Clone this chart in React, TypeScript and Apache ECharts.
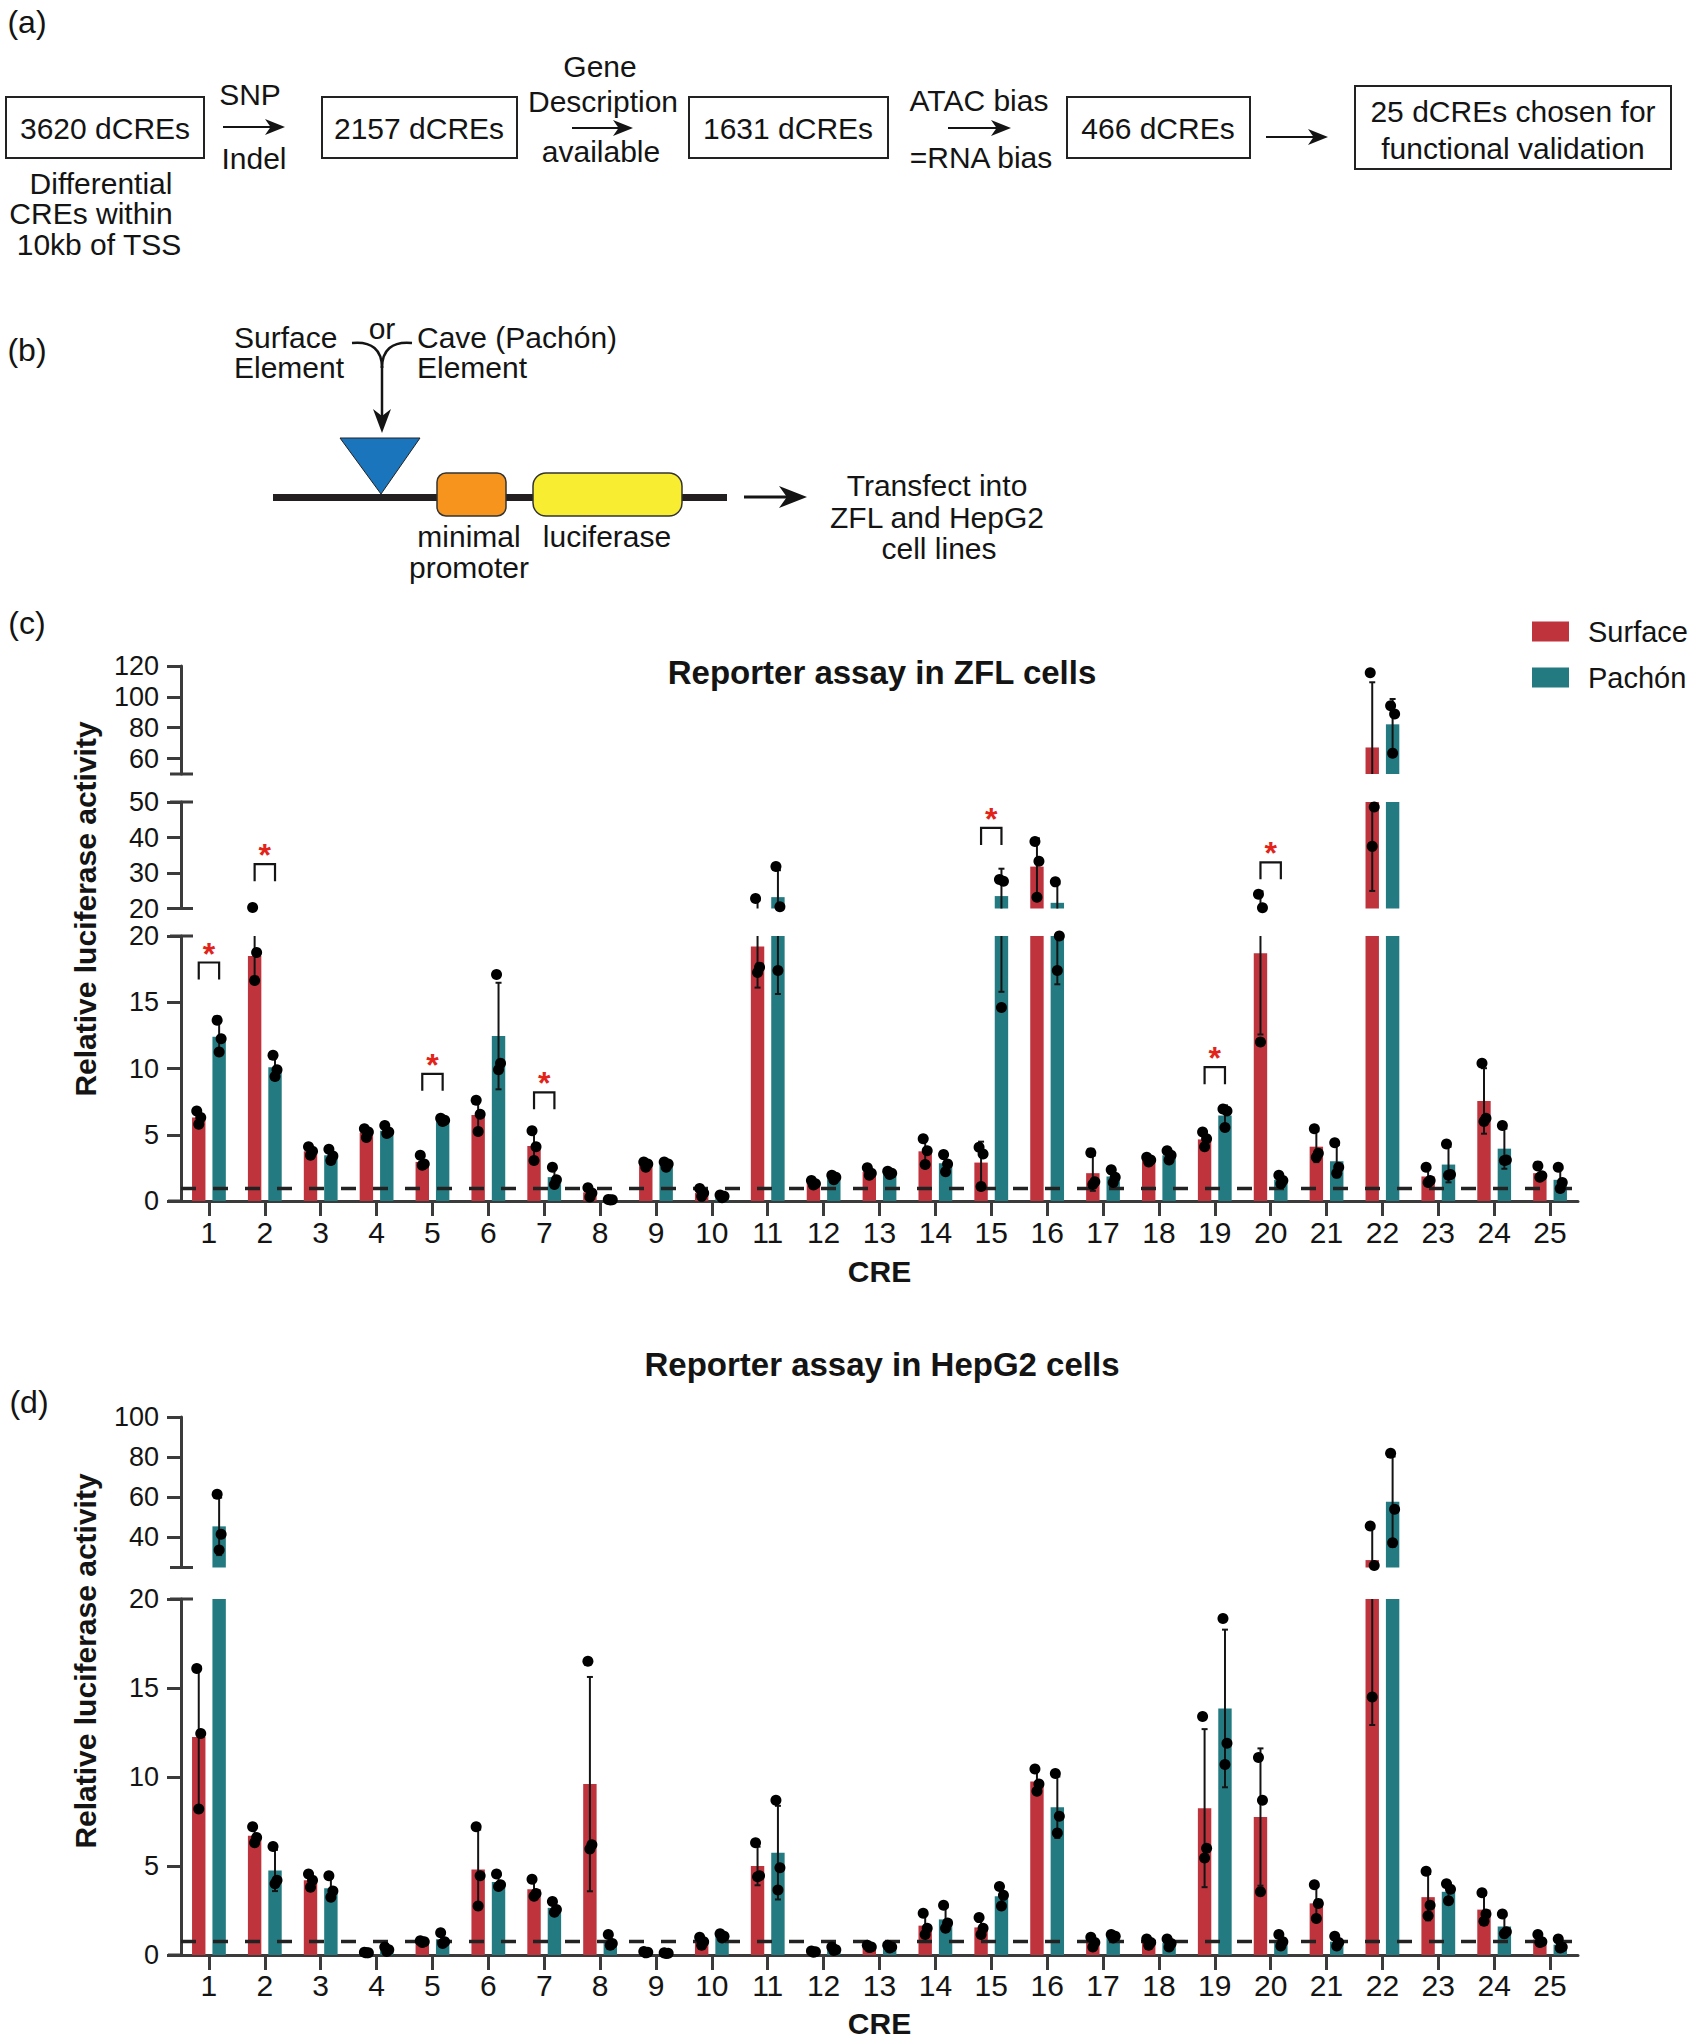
import React, { useEffect, useRef } from "react";
import * as echarts from "echarts";

// ---------------- data ----------------
const categories = ["1","2","3","4","5","6","7","8","9","10","11","12","13","14","15","16","17","18","19","20","21","22","23","24","25"];

// Panel (c) ZFL cells
const zflSurfaceMean = [6.3, 18.5, 3.75, 5.15, 2.95, 6.5, 4.15, 0.65, 2.75, 0.6, 19.2, 1.35, 2.2, 3.75, 2.9, 31.8, 2.1, 3.1, 4.65, 18.7, 4.1, 67.2, 1.85, 7.55, 2.1];
const zflPachonMean = [12.4, 10.1, 3.45, 5.3, 6.1, 12.45, 1.8, 0.1, 2.75, 0.35, 23.2, 1.8, 2.1, 2.85, 23.5, 21.6, 1.85, 3.45, 6.45, 1.6, 3.0, 82.2, 2.75, 3.95, 1.6];
const zflSurfaceReps = [
  [6.8, 6.3, 5.8], [20.3, 18.75, 16.65], [4.1, 3.75, 3.45], [5.45, 5.2, 4.8], [3.45, 2.8, 2.7],
  [7.6, 6.55, 5.25], [5.3, 4.1, 3.05], [1.0, 0.6, 0.3], [2.95, 2.8, 2.55], [0.95, 0.6, 0.35],
  [22.8, 17.65, 17.25], [1.55, 1.3, 1.2], [2.5, 2.1, 1.95], [4.7, 3.8, 2.75], [4.05, 3.55, 1.1],
  [38.9, 33.3, 23.2], [3.65, 1.45, 1.25], [3.3, 3.1, 2.95], [5.2, 4.7, 4.1], [24.0, 20.2, 12.0],
  [5.45, 3.6, 3.3], [115.6, 48.6, 37.5], [2.55, 1.55, 1.4], [10.4, 6.25, 6.0], [2.65, 1.9, 1.8]
];
const zflPachonReps = [
  [13.65, 12.25, 11.25], [11.0, 9.9, 9.4], [3.9, 3.4, 3.05], [5.7, 5.2, 5.1], [6.25, 6.1, 6.0],
  [17.1, 10.4, 9.9], [2.55, 1.6, 1.25], [0.12, 0.1, 0.08], [2.95, 2.8, 2.55], [0.45, 0.35, 0.25],
  [31.8, 20.5, 17.4], [1.95, 1.8, 1.6], [2.25, 2.1, 2.0], [3.5, 2.8, 2.2], [28.2, 27.7, 14.6],
  [27.5, 20.0, 17.4], [2.35, 1.8, 1.4], [3.8, 3.45, 3.1], [6.95, 6.8, 5.55], [1.95, 1.55, 1.3],
  [4.4, 2.55, 2.1], [94.2, 88.9, 63.5], [4.3, 2.0, 1.95], [5.7, 3.1, 3.05], [2.55, 1.4, 0.95]
];
const zflSigCats = [1, 2, 5, 7, 15, 19, 20];
const zflSigHeights = [18.0, 32.5, 9.6, 8.2, 42.7, 10.1, 33.0];
const zflBaseline = 1;

// Panel (d) HepG2 cells
const hepSurfaceMean = [12.25, 6.7, 4.2, 0.13, 0.75, 4.8, 3.7, 9.6, 0.15, 0.77, 5.0, 0.18, 0.47, 1.65, 1.55, 9.75, 0.7, 0.72, 8.25, 7.75, 2.9, 28.7, 3.25, 2.55, 0.87];
const hepPachonMean = [45.5, 4.75, 3.75, 0.32, 0.88, 4.1, 2.65, 0.78, 0.1, 1.07, 5.75, 0.33, 0.47, 2.0, 3.3, 8.3, 1.05, 0.67, 13.85, 0.8, 0.75, 57.8, 3.55, 1.6, 0.58];
const hepSurfaceReps = [
  [16.1, 12.45, 8.2], [7.2, 6.6, 6.3], [4.55, 4.2, 3.8], [0.15, 0.13, 0.12], [0.8, 0.75, 0.7],
  [7.2, 4.45, 2.75], [4.25, 3.45, 3.3], [16.5, 6.2, 5.95], [0.2, 0.15, 0.12], [1.0, 0.75, 0.55],
  [6.3, 4.45, 4.4], [0.22, 0.18, 0.15], [0.55, 0.45, 0.42], [2.35, 1.5, 1.15], [2.1, 1.5, 1.15],
  [10.45, 9.6, 9.2], [1.0, 0.7, 0.45], [0.9, 0.7, 0.55], [13.4, 6.0, 5.45], [11.1, 8.7, 3.55],
  [3.95, 2.9, 2.05], [45.7, 26.0, 14.5], [4.7, 2.8, 2.2], [3.5, 2.3, 1.9], [1.15, 0.75, 0.7]
];
const hepPachonReps = [
  [61.5, 41.6, 33.7], [6.1, 4.2, 4.0], [4.45, 3.6, 3.25], [0.45, 0.3, 0.2], [1.25, 0.75, 0.65],
  [4.55, 3.95, 3.85], [3.0, 2.55, 2.4], [1.15, 0.65, 0.55], [0.12, 0.1, 0.08], [1.2, 1.05, 0.95],
  [8.7, 4.9, 3.65], [0.45, 0.3, 0.25], [0.55, 0.45, 0.4], [2.8, 1.8, 1.5], [3.85, 3.35, 2.75],
  [10.2, 7.8, 6.85], [1.15, 1.05, 0.95], [0.9, 0.65, 0.45], [18.9, 11.9, 10.7], [1.15, 0.75, 0.5],
  [1.05, 0.7, 0.5], [81.9, 54.0, 37.3], [4.0, 3.7, 3.05], [2.3, 1.3, 1.2], [0.9, 0.45, 0.4]
];
const hepBaseline = 0.8;

// axis segments (broken axes), bottom segment first
const zflSegMin = [0, 20, 50];
const zflSegMax = [20, 50, 120];
const zflSegInterval = [5, 10, null];
const zflSegTicks = [null, null, [60, 80, 100, 120]];
const hepSegMin = [0, 25];
const hepSegMax = [20, 100];
const hepSegInterval = [5, null];
const hepSegTicks = [null, [40, 60, 80, 100]];

// ---------------- style / layout ----------------
const FONT = "'Liberation Sans', Arial, Helvetica, sans-serif";
const RED = "#BF333D";
const TEAL = "#237B81";
const AX = "#3b3b3b";
const INK = "#141414";
const STAR = "#E2231A";
const GRID_LEFT = 181;
const GRID_WIDTH = 1397;
const OFF = 0.1824; // bar centre offset as fraction of category width
const JIT = [-2, 2, 0];
const zflBoxes = [{ top: 936, height: 265 }, { top: 802, height: 106.5 }, { top: 666, height: 108 }];
const hepBoxes = [{ top: 1599, height: 356 }, { top: 1417, height: 150.5 }];

function sampleSD(a: number[]) {
  const m = a.reduce((s, v) => s + v, 0) / a.length;
  return Math.sqrt(a.reduce((s, v) => s + (v - m) * (v - m), 0) / (a.length - 1));
}

function txt(text: string, x: number, y: number, o: any = {}) {
  const align = o.align || "center";
  return {
    type: "text", x, y, silent: true, rotation: o.rotation || 0,
    style: {
      text, fill: o.color || INK, fontSize: o.size || 30, fontWeight: o.weight || "normal",
      fontFamily: FONT, align, verticalAlign: "middle", textAlign: align, textVerticalAlign: "middle"
    }
  };
}
function ln(x1: number, y1: number, x2: number, y2: number, w = 2, c = INK) {
  return { type: "line", silent: true, shape: { x1, y1, x2, y2 }, style: { stroke: c, lineWidth: w } };
}
function arrow(x1: number, x2: number, y: number, w = 2, hl = 20, hw = 8) {
  return [
    ln(x1, y, x2 - hl * 0.6, y, w),
    { type: "polygon", silent: true, shape: { points: [[x2, y], [x2 - hl, y - hw], [x2 - hl * 0.72, y], [x2 - hl, y + hw]] }, style: { fill: INK } }
  ];
}
function box(x: number, y: number, w: number, h: number) {
  return { type: "rect", silent: true, shape: { x, y, width: w, height: h }, style: { fill: "none", stroke: "#222", lineWidth: 2 } };
}

function buildOption() {
  const grid: any[] = [], xAxis: any[] = [], yAxis: any[] = [], series: any[] = [];

  const errorRender = (segMin: number, segMax: number) => (params: any, api: any) => {
    const cat = api.value(0), mean = api.value(1), sd = api.value(2), side = api.value(3);
    const lo = mean - sd, hi = mean + sd;
    const a = Math.max(lo, segMin), b = Math.min(hi, segMax);
    if (!(b > a)) return null;
    const cw = api.size([1, 0])[0];
    const pa = api.coord([cat, a]), pb = api.coord([cat, b]);
    const x = pa[0] + side * cw * OFF;
    const children: any[] = [{ type: "line", shape: { x1: x, y1: pa[1], x2: x, y2: pb[1] }, style: { stroke: INK, lineWidth: 2 } }];
    if (hi <= segMax) children.push({ type: "line", shape: { x1: x - 3, y1: pb[1], x2: x + 3, y2: pb[1] }, style: { stroke: INK, lineWidth: 2 } });
    if (lo >= segMin) children.push({ type: "line", shape: { x1: x - 3, y1: pa[1], x2: x + 3, y2: pa[1] }, style: { stroke: INK, lineWidth: 2 } });
    return { type: "group", children };
  };
  const dotRender = (params: any, api: any) => {
    const cat = api.value(0), v = api.value(1), side = api.value(2), j = api.value(3);
    const cw = api.size([1, 0])[0];
    const p = api.coord([cat, v]);
    return { type: "circle", shape: { cx: p[0] + side * cw * OFF + JIT[j], cy: p[1], r: 5.5 }, style: { fill: "#000" } };
  };
  const bracketRender = (params: any, api: any) => {
    const cat = api.value(0), top = api.value(1);
    const cw = api.size([1, 0])[0];
    const p = api.coord([cat, top]);
    const xl = p[0] - cw * OFF, xr = p[0] + cw * OFF;
    return {
      type: "group", children: [
        { type: "polyline", shape: { points: [[xl, p[1] + 17], [xl, p[1]], [xr, p[1]], [xr, p[1] + 17]] }, style: { stroke: INK, lineWidth: 2.2, fill: "none" } },
        { type: "text", x: p[0], y: p[1] - 9, style: { text: "*", fill: STAR, fontSize: 32, fontWeight: "bold", fontFamily: FONT, align: "center", verticalAlign: "middle", textAlign: "center", textVerticalAlign: "middle" } }
      ]
    };
  };

  function addPanel(segMin: number[], segMax: number[], segInt: any[], segTicks: any[], boxes: any[],
    sMean: number[], pMean: number[], sReps: number[][], pReps: number[][], baseline: number,
    sigCats: number[] | null, sigHeights: number[] | null, nameGap: number, labelMargin: number) {
    const segOf = (v: number) => { for (let k = 0; k < segMax.length; k++) if (v <= segMax[k]) return k; return segMax.length - 1; };
    for (let k = 0; k < segMin.length; k++) {
      const gi = grid.length;
      const bottom = k === 0;
      grid.push({ left: GRID_LEFT, width: GRID_WIDTH, top: boxes[k].top, height: boxes[k].height, containLabel: false, outerBoundsMode: "none" });
      xAxis.push({
        type: "category", gridIndex: gi, data: categories, show: bottom,
        name: bottom ? "CRE" : "", nameLocation: "middle", nameGap,
        nameTextStyle: { fontSize: 30, fontWeight: "bold", color: INK, fontFamily: FONT },
        axisLine: { show: true, onZero: false, lineStyle: { color: AX, width: 3 } },
        axisTick: { show: true, alignWithLabel: true, length: 15, lineStyle: { color: AX, width: 3 } },
        axisLabel: { fontSize: 30, color: INK, margin: labelMargin, fontFamily: FONT }
      });
      const ya: any = {
        type: "value", gridIndex: gi, min: segMin[k], max: segMax[k],
        splitLine: { show: false },
        axisLine: { show: true, lineStyle: { color: AX, width: 3 } },
        axisTick: { show: true, length: 14, lineStyle: { color: AX, width: 3 } },
        axisLabel: { fontSize: 27, color: INK, margin: 22, fontFamily: FONT }
      };
      if (segInt[k]) ya.interval = segInt[k];
      if (segTicks[k]) { ya.axisTick.customValues = segTicks[k]; ya.axisLabel.customValues = segTicks[k]; }
      yAxis.push(ya);

      series.push({ type: "bar", name: "Surface", xAxisIndex: gi, yAxisIndex: gi, data: sMean, barWidth: "24%", barGap: "52%", clip: true, z: 2, itemStyle: { color: RED }, silent: true });
      const pBar: any = { type: "bar", name: "Pachón", xAxisIndex: gi, yAxisIndex: gi, data: pMean, barWidth: "24%", barGap: "52%", clip: true, z: 2, itemStyle: { color: TEAL }, silent: true };
      if (bottom) {
        pBar.markLine = { silent: true, symbol: ["none", "none"], label: { show: false }, z: 5,
          lineStyle: { color: "#222", width: 3.3, type: [15, 17] }, data: [{ yAxis: baseline }] };
      }
      series.push(pBar);

      const errData: any[] = [];
      for (let i = 0; i < categories.length; i++) {
        errData.push([i, sMean[i], sampleSD(sReps[i]), -1]);
        errData.push([i, pMean[i], sampleSD(pReps[i]), 1]);
      }
      series.push({ type: "custom", name: "err" + gi, xAxisIndex: gi, yAxisIndex: gi, z: 4, silent: true, data: errData, encode: { x: 0, y: 1 }, renderItem: errorRender(segMin[k], segMax[k]) });

      const dotData: any[] = [];
      for (let i = 0; i < categories.length; i++) {
        sReps[i].forEach((v, j) => { if (segOf(v) === k) dotData.push([i, v, -1, j]); });
        pReps[i].forEach((v, j) => { if (segOf(v) === k) dotData.push([i, v, 1, j]); });
      }
      series.push({ type: "custom", name: "dots" + gi, xAxisIndex: gi, yAxisIndex: gi, z: 6, silent: true, data: dotData, encode: { x: 0, y: 1 }, renderItem: dotRender });

      if (sigCats && sigHeights) {
        const bd: any[] = [];
        sigCats.forEach((c, idx) => { if (segOf(sigHeights[idx]) === k) bd.push([c - 1, sigHeights[idx]]); });
        if (bd.length) series.push({ type: "custom", name: "sig" + gi, xAxisIndex: gi, yAxisIndex: gi, z: 6, silent: true, data: bd, encode: { x: 0, y: 1 }, renderItem: bracketRender });
      }
    }
  }

  addPanel(zflSegMin, zflSegMax, zflSegInterval, zflSegTicks, zflBoxes, zflSurfaceMean, zflPachonMean, zflSurfaceReps, zflPachonReps, zflBaseline, zflSigCats, zflSigHeights, 55, 16);
  addPanel(hepSegMin, hepSegMax, hepSegInterval, hepSegTicks, hepBoxes, hepSurfaceMean, hepPachonMean, hepSurfaceReps, hepPachonReps, hepBaseline, null, null, 53, 15);

  // static drawings (panels a and b), labels, axis break marks
  const g: any[] = [];
  g.push(txt("(a)", 27, 22, { size: 32 }), txt("(b)", 27, 350, { size: 32 }), txt("(c)", 27, 623, { size: 32 }), txt("(d)", 29, 1402, { size: 32 }));
  // panel a
  g.push(box(6, 97, 198, 61), txt("3620 dCREs", 105, 128));
  g.push(txt("Differential", 101, 183), txt("CREs within", 91, 213), txt("10kb of TSS", 99, 244));
  g.push(txt("SNP", 250, 94), txt("Indel", 254, 158), ...arrow(223, 285, 127));
  g.push(box(322, 97, 195, 61), txt("2157 dCREs", 419, 128));
  g.push(txt("Gene", 600, 66), txt("Description", 603, 101), txt("available", 601, 151), ...arrow(572, 633, 128));
  g.push(box(689, 97, 199, 61), txt("1631 dCREs", 788, 128));
  g.push(txt("ATAC bias", 979, 100), txt("=RNA bias", 981, 157), ...arrow(948, 1011, 128));
  g.push(box(1067, 97, 183, 61), txt("466 dCREs", 1158, 128));
  g.push(...arrow(1266, 1328, 137));
  g.push(box(1355, 86, 316, 83), txt("25 dCREs chosen for", 1513, 111), txt("functional validation", 1513, 148));
  // panel b
  g.push(txt("Surface", 234, 337, { align: "left" }), txt("Element", 234, 367, { align: "left" }));
  g.push(txt("or", 382, 328));
  g.push(txt("Cave (Pachón)", 417, 337, { align: "left" }), txt("Element", 417, 367, { align: "left" }));
  g.push({ type: "bezierCurve", silent: true, shape: { x1: 352, y1: 343, cpx1: 372, cpy1: 341, cpx2: 382, cpy2: 350, x2: 382, y2: 368 }, style: { stroke: INK, lineWidth: 2.5, fill: "none" } });
  g.push({ type: "bezierCurve", silent: true, shape: { x1: 412, y1: 343, cpx1: 392, cpy1: 341, cpx2: 382, cpy2: 350, x2: 382, y2: 368 }, style: { stroke: INK, lineWidth: 2.5, fill: "none" } });
  g.push(ln(382, 366, 382, 425, 2.5));
  g.push({ type: "polygon", silent: true, shape: { points: [[382, 433], [373, 409], [382, 416], [391, 409]] }, style: { fill: INK } });
  g.push({ type: "rect", silent: true, shape: { x: 273, y: 494, width: 454, height: 7 }, style: { fill: "#231f20" } });
  g.push({ type: "polygon", silent: true, shape: { points: [[340, 438], [420, 438], [381, 494]] }, style: { fill: "#1B75BC", stroke: "#222", lineWidth: 1 } });
  g.push({ type: "rect", silent: true, shape: { x: 437, y: 473, width: 69, height: 43, r: 9 }, style: { fill: "#F7941D", stroke: "#333", lineWidth: 1.5 } });
  g.push({ type: "rect", silent: true, shape: { x: 533, y: 473, width: 149, height: 43, r: 13 }, style: { fill: "#F9ED32", stroke: "#333", lineWidth: 1.5 } });
  g.push(txt("minimal", 469, 536), txt("promoter", 469, 567), txt("luciferase", 607, 536));
  g.push(...arrow(744, 807, 497, 3, 28, 11));
  g.push(txt("Transfect into", 937, 485), txt("ZFL and HepG2", 937, 517), txt("cell lines", 939, 548));
  // titles and axis names
  g.push(txt("Reporter assay in ZFL cells", 882, 672, { size: 33, weight: "bold" }));
  g.push(txt("Reporter assay in HepG2 cells", 882, 1364, { size: 33, weight: "bold" }));
  g.push(txt("Relative luciferase activity", 85, 909, { size: 30, weight: "bold", rotation: Math.PI / 2 }));
  g.push(txt("Relative luciferase activity", 85, 1661, { size: 30, weight: "bold", rotation: Math.PI / 2 }));
  // axis break marks and x-axis extension
  [zflBoxes[0].top, zflBoxes[1].top + zflBoxes[1].height, zflBoxes[1].top, zflBoxes[2].top + zflBoxes[2].height,
   hepBoxes[0].top, hepBoxes[1].top + hepBoxes[1].height].forEach((y) => g.push(ln(170, y, 193, y, 3, AX)));
  g.push(ln(168, zflBoxes[0].top + zflBoxes[0].height, GRID_LEFT, zflBoxes[0].top + zflBoxes[0].height, 3, AX));
  g.push(ln(168, hepBoxes[0].top + hepBoxes[0].height, GRID_LEFT, hepBoxes[0].top + hepBoxes[0].height, 3, AX));

  return {
    animation: false,
    backgroundColor: "#ffffff",
    textStyle: { fontFamily: FONT },
    grid, xAxis, yAxis, series,
    legend: {
      data: ["Surface", "Pachón"], orient: "vertical", left: 1532, top: 617, padding: 0,
      itemWidth: 37, itemHeight: 20, itemGap: 17, selectedMode: false, icon: "rect",
      textStyle: { fontSize: 29, color: INK, fontFamily: FONT, padding: [0, 0, 0, 14] }
    },
    graphic: { elements: g }
  };
}

export default function App() {
  const ref = useRef<HTMLDivElement>(null);
  useEffect(() => {
    if (!ref.current) return;
    const chart = echarts.init(ref.current, null, { renderer: "svg" });
    chart.setOption(buildOption() as any);
    return () => chart.dispose();
  }, []);
  return <div ref={ref} style={{ position: "absolute", left: 0, top: 0, width: 1700, height: 2040, background: "#fff" }} />;
}
